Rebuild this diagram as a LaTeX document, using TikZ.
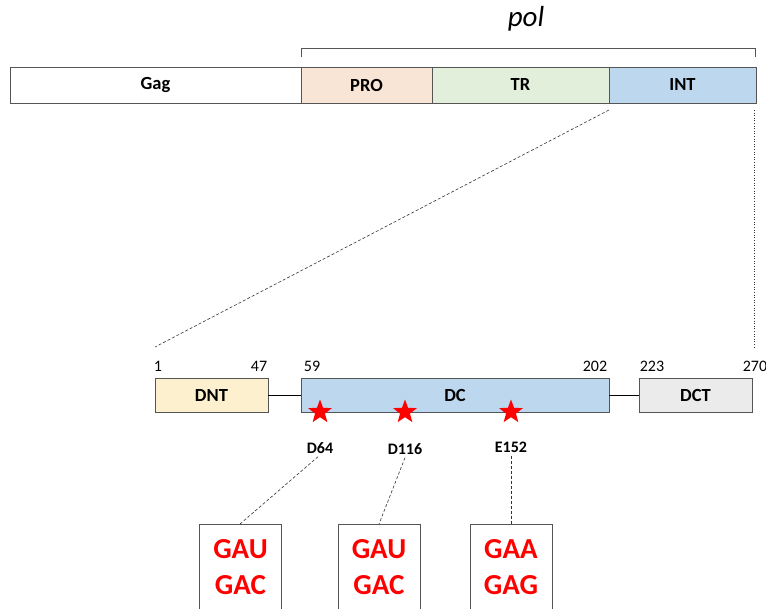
\documentclass[tikz,border=0pt]{standalone}
\usepackage{fontspec}
\setmainfont{Carlito}
\usetikzlibrary{shapes.geometric}
\definecolor{proc}{HTML}{F8E5D5}
\definecolor{trc}{HTML}{E2EFDA}
\definecolor{intc}{HTML}{BDD7EE}
\definecolor{dntc}{HTML}{FCF0CE}
\definecolor{dctc}{HTML}{EBEBEB}
\definecolor{edge}{HTML}{555555}
\tikzset{
  seg/.style={draw=edge, line width=0.8pt, minimum height=36pt, inner sep=0pt, font=\fontsize{18.5}{20}\selectfont\bfseries},
  dom/.style={draw=edge, line width=0.8pt, minimum height=34pt, inner sep=0pt, font=\fontsize{18.5}{20}\selectfont\bfseries},
  num/.style={font=\fontsize{16}{18}\selectfont, inner sep=0pt},
  mut/.style={font=\fontsize{16}{18}\selectfont\bfseries, inner sep=0pt},
  redstar/.style={star, star points=5, star point ratio=2.4, fill=red, draw=none, minimum size=25pt, inner sep=0pt},
  codon/.style={draw=edge, line width=0.8pt, minimum width=82pt, minimum height=86pt, anchor=north, text=red, align=center, font=\fontsize{29}{36}\selectfont\bfseries, inner sep=0pt},
  dash1/.style={densely dashed, line width=0.6pt, draw=black!80},
}
\begin{document}
\begin{tikzpicture}[x=1pt,y=-1pt]
\useasboundingbox (0,0) rectangle (766,608);
\clip (0,0) rectangle (766,608);
% top bar
\node[seg, fill=white, minimum width=291pt] (gag) at (155.5,85) {Gag};
\node[seg, fill=proc, minimum width=131pt] (pro) at (366.5,85) {PRO};
\node[seg, fill=trc, minimum width=177pt] (tr) at (520.5,85) {TR};
\node[seg, fill=intc, minimum width=147pt] (int) at (682.5,85) {INT};
% bracket
\coordinate (bl) at (301,57);
\coordinate (br) at (755,57);
\draw[edge, line width=0.8pt] (bl) -- ++(0,-9) -| (br);
\node[font=\fontsize{29}{32}\selectfont\itshape] (pol) at (526,19) {pol};
% middle domains
\node[dom, fill=dntc, minimum width=113pt] (dnt) at (211.5,395) {DNT};
\node[dom, fill=intc, minimum width=308pt] (dc) at (455,395) {DC};
\node[dom, fill=dctc, minimum width=113pt] (dct) at (695.5,395) {DCT};
\draw[black, line width=1pt] (dnt.east) -- (dc.west);
\draw[black, line width=1pt] (dc.east) -- (dct.west);
% numbers
\node[num] (n1) at (158,366) {1};
\node[num] (n47) at (259,366) {47};
\node[num] (n59) at (312,366) {59};
\node[num] (n202) at (595,366) {202};
\node[num] (n223) at (652,366) {223};
\node[num] (n270) at (755,366) {270};
% zoom lines
\coordinate (z1) at (609,110);
\coordinate (z2) at (155,347);
\coordinate (z3) at (754,110);
\coordinate (z4) at (754,347);
\draw[dash1] (z1) -- (z2);
\draw[dash1, dotted, line width=0.8pt] (z3) -- (z4);
% stars
\node[redstar] (s1) at (320,412) {};
\node[redstar] (s2) at (405,412) {};
\node[redstar] (s3) at (511,412) {};
% mutation labels
\node[mut] (m1) at (320,448) {D64};
\node[mut] (m2) at (405,449) {D116};
\node[mut] (m3) at (511,447) {E152};
% codon boxes
\node[codon] (c1) at (240.5,524) {GAU\\GAC};
\node[codon] (c2) at (379,524) {GAU\\GAC};
\node[codon] (c3) at (511,524) {GAA\\GAG};
\coordinate (c1t) at (240,524);
\coordinate (c2t) at (379,524);
\coordinate (c3t) at (511,524);
\draw[dash1] (m1.south) ++(-2,3) -- (c1t);
\draw[dash1] (m2.south) ++(0,3) -- (c2t);
\draw[dash1] (m3.south) ++(0,3) -- (c3t);
\end{tikzpicture}
\end{document}
